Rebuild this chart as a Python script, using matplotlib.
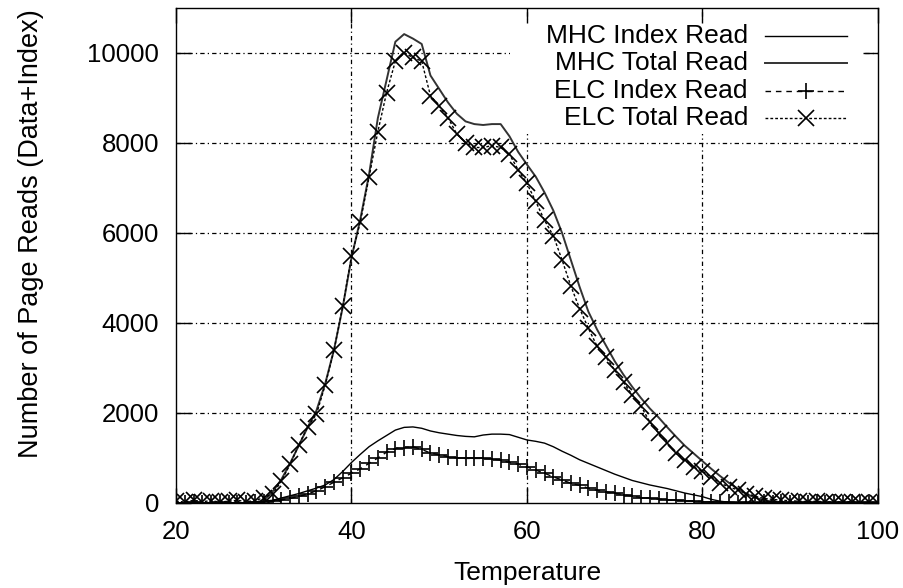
#!/usr/bin/env python
import matplotlib

matplotlib.use("Agg")
import matplotlib.pyplot as plt
from matplotlib.lines import Line2D
from matplotlib.patches import Rectangle

plt.rcParams["font.family"] = ["Liberation Sans", "DejaVu Sans"]

# temperature sampled every degree, 20..100
temperature = list(range(20, 101))

mhc_total = [
    0, 0, 0, 0, 0, 0, 0, 0, 0, 10,
    60, 250, 520, 880, 1280, 1680, 2050, 2650, 3400, 4350,
    5450, 6300, 7300, 8550, 9400, 10250, 10420, 10320, 10200, 9500,
    9200, 8900, 8650, 8480, 8420, 8400, 8420, 8420, 8150, 7800,
    7520, 7250, 6900, 6500, 6000, 5400, 4800, 4250, 3850, 3500,
    3150, 2850, 2580, 2330, 2100, 1900, 1680, 1470, 1270, 1100,
    930, 760, 600, 450, 320, 200, 120, 60, 30, 10,
    0, 0, 0, 0, 0, 0, 0, 0, 0, 0, 0,
]

mhc_index = [
    0, 0, 10, 0, 10, 0, 10, 0, 10, 20,
    40, 60, 110, 160, 210, 270, 330, 400, 520, 700,
    900, 1080, 1250, 1380, 1500, 1620, 1680, 1690, 1660, 1600,
    1560, 1530, 1500, 1480, 1470, 1510, 1530, 1530, 1520, 1460,
    1400, 1370, 1330, 1250, 1150, 1060, 960, 880, 800, 720,
    640, 570, 500, 450, 400, 360, 320, 270, 220, 180,
    140, 80, 40, 15, 0, 0, 0, 0, 0, 0,
    0, 0, 0, 0, 0, 0, 0, 0, 0, 0, 0,
]

elc_index = [
    10, 0, 20, 10, 0, 20, 10, 0, 10, 20,
    30, 40, 70, 100, 145, 200, 270, 360, 460, 560,
    660, 760, 880, 1000, 1130, 1210, 1230, 1250, 1190, 1110,
    1070, 1030, 1000, 990, 990, 990, 980, 950, 900, 860,
    800, 730, 660, 580, 510, 440, 390, 330, 280, 250,
    215, 185, 150, 120, 100, 85, 70, 60, 50, 40,
    30, 25, 20, 15, 10, 15, 10, 15, 10, 15,
    10, 15, 10, 15, 10, 15, 10, 15, 10, 15, 10,
]

elc_total = [
    40, 20, 60, 30, 50, 20, 40, 60, 30, 50,
    120, 200, 480, 860, 1290, 1690, 1970, 2620, 3390, 4370,
    5480, 6240, 7240, 8250, 9120, 9820, 10000, 9900, 9820, 9050,
    8820, 8560, 8200, 8010, 7900, 7900, 7940, 7900, 7750, 7400,
    7100, 6700, 6280, 5940, 5400, 4820, 4320, 3880, 3480, 3240,
    2950, 2680, 2400, 2150, 1800, 1550, 1330, 1100, 950, 800,
    700, 580, 440, 360, 290, 210, 150, 100, 80, 60,
    50, 40, 30, 40, 20, 30, 20, 30, 10, 20, 10,
]

series_labels = ["MHC Index Read", "MHC Total Read", "ELC Index Read", "ELC Total Read"]


def main() -> None:
    fig = plt.figure(figsize=(9.04, 5.88), dpi=100)
    ax = fig.add_axes([0.1947, 0.1446, 0.7765, 0.8418])

    styles = [
        dict(color="black", lw=1.0, ls="-"),
        dict(color="#333333", lw=1.4, ls="-"),
        dict(color="black", lw=1.0, ls=(0, (4, 3.5)), marker="+", ms=12, mew=1.2),
        dict(color="black", lw=1.0, ls=(0, (2, 1.5)), marker="x", ms=11, mew=1.2),
    ]
    data = [mhc_index, mhc_total, elc_index, elc_total]
    for values, style in zip(data, styles):
        ax.plot(temperature, values, zorder=2, **style)

    ax.set_xlim(20, 100)
    ax.set_ylim(0, 11000)
    ax.set_xticks([20, 40, 60, 80, 100])
    ax.set_yticks([0, 2000, 4000, 6000, 8000, 10000])
    ax.tick_params(direction="in", length=11, width=1.0, labelsize=18.5, pad=12,
                   top=True, right=True)
    for spine in ax.spines.values():
        spine.set_linewidth(1.0)

    # gnuplot-like grid, interior only
    x0, x1 = ax.get_xlim()
    y0, y1 = ax.get_ylim()
    for t in ax.get_xticks():
        if x0 < t < x1:
            ax.axvline(t, color="black", lw=0.9, ls=(0, (3.5, 2.5, 1, 2.5)), zorder=0.9)
    for t in ax.get_yticks():
        if y0 < t < y1:
            ax.axhline(t, color="black", lw=0.9, ls=(0, (3.5, 2.5, 1, 2.5)), zorder=0.9)

    ax.set_xlabel("Temperature", fontsize=19)
    ax.set_ylabel("Number of Page Reads (Data+Index)", fontsize=19.5)
    ax.xaxis.set_label_coords(0.5, -0.118)
    ax.yaxis.set_label_coords(-0.188, 0.545)

    # key: opaque box, text right aligned, samples on the right
    ax.add_patch(Rectangle((0.476, 0.745), 0.506, 0.23, transform=ax.transAxes,
                           facecolor="white", edgecolor="none", zorder=1.2))
    rows = [0.9434, 0.8889, 0.8323, 0.7778]
    for label, style, yy in zip(series_labels, styles, rows):
        ax.text(0.8148, yy, label, transform=ax.transAxes, ha="right", va="center",
                fontsize=19, zorder=5)
        ax.add_line(Line2D([0.839, 0.8974, 0.9558], [yy, yy, yy], transform=ax.transAxes,
                           markevery=[1], clip_on=False, zorder=5, **style))

    fig.savefig("out.png", dpi=100)
    plt.close(fig)


if __name__ == "__main__":
    main()
